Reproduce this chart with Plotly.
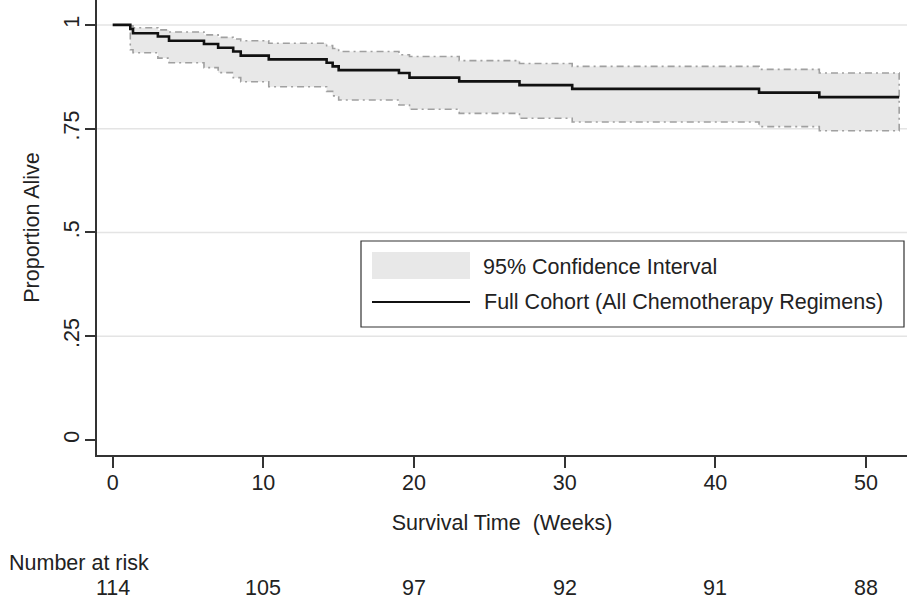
import plotly.graph_objects as go

# ---------------- data ----------------
event_times = [1.17, 1.35, 3.0, 3.74, 6.06, 7.0, 8.0, 8.5, 10.36, 14.2, 14.6, 15.0,
               19.0, 19.7, 23.0, 27.0, 30.5, 42.9, 46.9]
survival = [0.990, 0.980, 0.972, 0.962, 0.954, 0.945, 0.936, 0.926, 0.917, 0.909,
            0.900, 0.891, 0.884, 0.873, 0.864, 0.855, 0.846, 0.837, 0.826]
ci_upper = [0.998, 0.993, 0.988, 0.983, 0.976, 0.970, 0.966, 0.962, 0.956, 0.950,
            0.943, 0.936, 0.928, 0.924, 0.914, 0.907, 0.900, 0.893, 0.884]
ci_lower = [0.940, 0.933, 0.920, 0.909, 0.897, 0.885, 0.873, 0.863, 0.851, 0.840,
            0.829, 0.819, 0.807, 0.797, 0.787, 0.775, 0.766, 0.755, 0.745]
follow_up_end = 52.2

x_ticks = [0, 10, 20, 30, 40, 50]
y_ticks = [0, 0.25, 0.5, 0.75, 1]
y_tick_labels = ["0", ".25", ".5", ".75", "1"]
grid_vals = [0.25, 0.5, 0.75, 1]

risk_times = [0, 10, 20, 30, 40, 50]
n_at_risk = [114, 105, 97, 92, 91, 88]

# ---------------- layout helpers ----------------
W, H = 907, 601
ML, MR, MT, MB = 97, 0, 0, 146
PW, PH = W - ML - MR, H - MT - MB
FONT = "Liberation Sans, Arial, Helvetica, sans-serif"
TXT = "#222222"
FS = 21.5


def px(x):
    return (x - ML) / PW


def py(y):
    return 1 - (y - MT) / PH


def steps(times, vals, end):
    xs, ys = [], []
    for i, (t, v) in enumerate(zip(times, vals)):
        nxt = times[i + 1] if i + 1 < len(times) else end
        xs += [t, nxt]
        ys += [v, v]
    return xs, ys


km_x, km_y = steps([0] + event_times, [1.0] + survival, follow_up_end)
ux, uy = steps(event_times, ci_upper, follow_up_end)
lx, ly = steps(event_times, ci_lower, follow_up_end)
band_x = ux + lx[::-1] + [ux[0]]
band_y = uy + ly[::-1] + [uy[0]]

fig = go.Figure()
fig.add_trace(go.Scatter(
    x=band_x, y=band_y, mode="lines", fill="toself",
    fillcolor="#e8e8e8",
    line=dict(color="#a0a0a0", width=1.6, dash="7px,4px,2px,4px"),
    name="95% Confidence Interval", hoverinfo="skip", showlegend=False))
fig.add_trace(go.Scatter(
    x=km_x, y=km_y, mode="lines",
    line=dict(color="#111111", width=2.6),
    name="Full Cohort (All Chemotherapy Regimens)", showlegend=False))

shapes = []
for g in grid_vals:
    shapes.append(dict(type="line", xref="paper", yref="y", x0=0, x1=1, y0=g, y1=g,
                       line=dict(color="#e4e4e4", width=1.5), layer="below"))

# legend box
shapes.append(dict(type="rect", xref="paper", yref="paper",
                   x0=px(361), x1=px(904), y0=py(327), y1=py(241),
                   line=dict(color="#333333", width=1.2), fillcolor="white", layer="above"))
shapes.append(dict(type="rect", xref="paper", yref="paper",
                   x0=px(372), x1=px(470), y0=py(279), y1=py(252),
                   line=dict(width=0), fillcolor="#e8e8e8", layer="above"))
shapes.append(dict(type="line", xref="paper", yref="paper",
                   x0=px(372), x1=px(470), y0=py(302), y1=py(302),
                   line=dict(color="#111111", width=2.2), layer="above"))

annotations = [
    dict(text="95% Confidence Interval", xref="paper", yref="paper",
         x=px(481), y=py(267), xanchor="left", yanchor="middle", showarrow=False,
         font=dict(size=FS, color=TXT, family=FONT)),
    dict(text="Full Cohort (All Chemotherapy Regimens)", xref="paper", yref="paper",
         x=px(482), y=py(302), xanchor="left", yanchor="middle", showarrow=False,
         font=dict(size=FS, color=TXT, family=FONT)),
    dict(text="Number at risk", xref="paper", yref="paper",
         x=px(7), y=py(563), xanchor="left", yanchor="middle", showarrow=False,
         font=dict(size=FS, color=TXT, family=FONT)),
]
for t, n in zip(risk_times, n_at_risk):
    annotations.append(dict(text=str(n), xref="x", yref="paper", x=t, y=py(588),
                            xanchor="center", yanchor="middle", showarrow=False,
                            font=dict(size=FS, color=TXT, family=FONT)))

fig.update_layout(
    width=W, height=H,
    margin=dict(l=ML, r=MR, t=MT, b=MB, pad=0),
    paper_bgcolor="white", plot_bgcolor="white",
    font=dict(family=FONT, size=FS, color=TXT),
    showlegend=False,
    shapes=shapes, annotations=annotations,
    xaxis=dict(range=[-1.04, 52.72], tickvals=x_ticks, ticks="outside", ticklen=11,
               tickwidth=1.5, tickcolor="#333333", showline=True, linecolor="#333333",
               linewidth=1.5, showgrid=False, zeroline=False, automargin=False,
               ticklabelstandoff=-4,
               tickfont=dict(size=FS, color=TXT),
               title=dict(text="Survival Time  (Weeks)", standoff=21,
                          font=dict(size=FS, color=TXT))),
    yaxis=dict(range=[-0.036, 1.06], tickvals=y_ticks, ticktext=y_tick_labels,
               tickangle=-90, ticks="outside", ticklen=10, tickwidth=1.5,
               tickcolor="#333333", showline=True, linecolor="#333333", linewidth=1.5,
               showgrid=False, zeroline=False, automargin=False,
               ticklabelstandoff=-2,
               tickfont=dict(size=FS, color=TXT),
               title=dict(text="Proportion Alive", standoff=14,
                          font=dict(size=FS, color=TXT))),
)

fig.write_html("out.html")
